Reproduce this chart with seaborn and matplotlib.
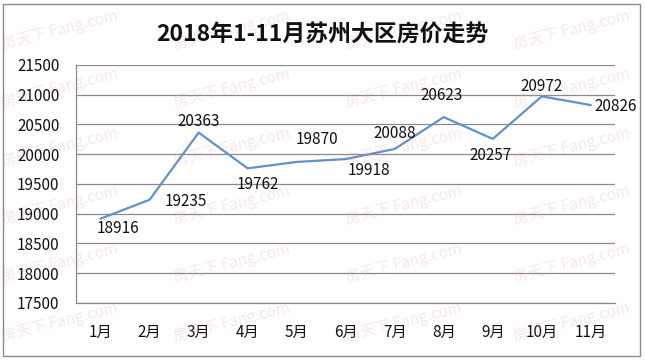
import matplotlib
matplotlib.use("Agg")
import matplotlib.pyplot as plt
from matplotlib.patches import Rectangle
import pandas as pd
import seaborn as sns

# data
months = ["1月", "2月", "3月", "4月", "5月", "6月", "7月", "8月", "9月", "10月", "11月"]
prices = [18916, 19235, 20363, 19762, 19870, 19918, 20088, 20623, 20257, 20972, 20826]
# label offsets (pixels) relative to each point, as placed in the original
label_offsets = [(17, -10), (36, -2), (0, 11), (10, -16), (20, 22), (23, -11),
                 (0, 15), (-2, 22), (-2, -17), (0, 10), (25, -1)]
y_ticks = list(range(17500, 21501, 500))
title = "2018年1-11月苏州大区房价走势"

sns.set_style("white")
plt.rcParams['font.family'] = ['Noto Sans CJK SC', 'DejaVu Sans']

df = pd.DataFrame({"month": months, "price": prices})

fig = plt.figure(figsize=(6.45, 3.61), dpi=100)
ax = fig.add_axes([0.118, 0.161, 0.836, 0.659])

# faint watermark tiles
for wy in [30, 88, 147, 205, 263, 322]:
    for wx in [60, 232, 404, 572]:
        fig.text(wx / 645, 1 - wy / 361, "房天下 Fang.com", fontsize=11, color="#e08a8a",
                 alpha=0.2, rotation=14, ha="center", va="center", zorder=0)

sns.lineplot(data=df, x="month", y="price", sort=False, color="#5E93C9",
             linewidth=1.6, ax=ax, zorder=3)

for i, (v, off) in enumerate(zip(prices, label_offsets)):
    ax.annotate(str(v), (i, v), xytext=off, textcoords="offset pixels",
                ha="center", va="center", fontsize=11, color="#111111")

ax.set_ylim(17500, 21500)
ax.set_yticks(y_ticks)
ax.set_xlim(-0.5, len(months) - 0.5)
ax.set_xticks(range(len(months)))
ax.set_xticklabels(months)
ax.set_xticks([i - 0.5 for i in range(len(months) + 1)], minor=True)
ax.tick_params(axis="x", which="major", length=0, pad=15, labelsize=11, labelcolor="#111111")
ax.tick_params(axis="x", which="minor", length=4, width=0.9, color="#888888", direction="out")
ax.tick_params(axis="y", length=4, width=0.9, color="#888888", direction="out",
               pad=8, labelsize=11, labelcolor="#111111")
ax.set_xlabel("")
ax.set_ylabel("")
ax.yaxis.grid(True, color="#8a8a8a", linewidth=0.9)
ax.set_axisbelow(True)
for s in ["top", "right"]:
    ax.spines[s].set_visible(False)
for s in ["left", "bottom"]:
    ax.spines[s].set_color("#8a8a8a")
    ax.spines[s].set_linewidth(0.9)
ax.patch.set_alpha(0)

fig.text(0.5, 1 - 35 / 361, title, ha="center", va="center", fontsize=16.5,
         fontweight="bold", color="#111111")

fig.patches.append(Rectangle((3 / 645, 5 / 361), 637 / 645, 352 / 361, transform=fig.transFigure,
                             fill=False, edgecolor="#8c8c8c", linewidth=1))

fig.savefig("out.png", dpi=100)
